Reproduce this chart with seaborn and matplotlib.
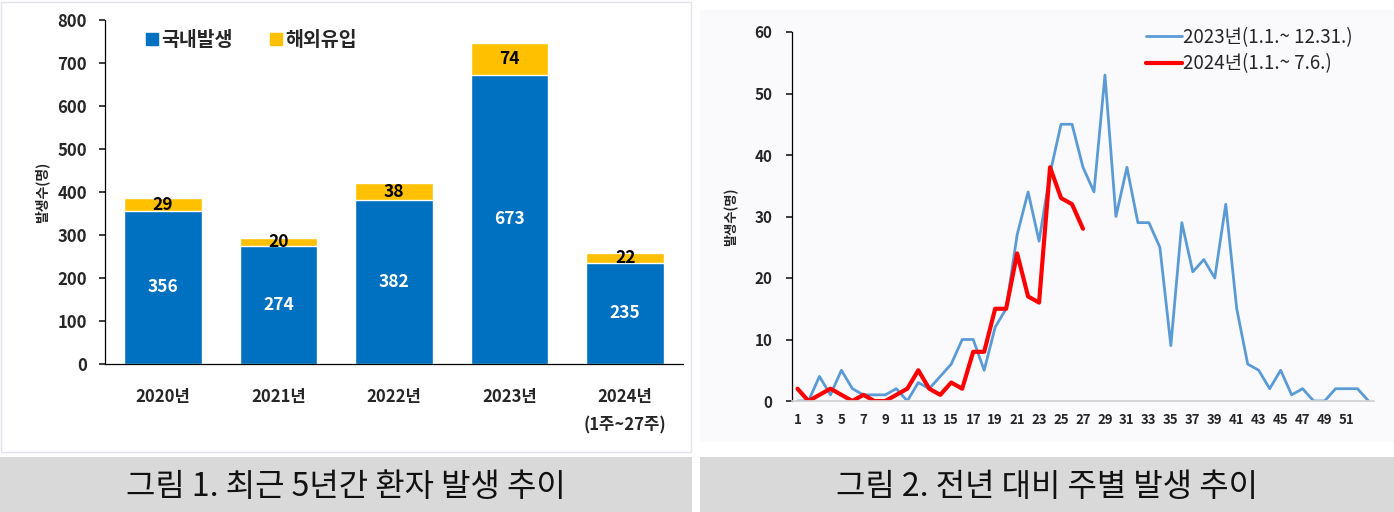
import numpy as np
import pandas as pd
import matplotlib
matplotlib.use("Agg")
import matplotlib.pyplot as plt
from matplotlib.patches import Rectangle
from matplotlib.lines import Line2D
import seaborn as sns

# ── DATA ────────────────────────────────────────────────────────────────────
years = ["2020년", "2021년", "2022년", "2023년", "2024년\n(1주~27주)"]
domestic = [356, 274, 382, 673, 235]
overseas = [29, 20, 38, 74, 22]

weeks_2023 = list(range(1, 54))
cases_2023 = [0, 0, 4, 1, 5, 2, 1, 1, 1, 2,
              0, 3, 2, 4, 6, 10, 10, 5, 12, 15,
              27, 34, 26, 37, 45, 45, 38, 34, 53, 30,
              38, 29, 29, 25, 9, 29, 21, 23, 20, 32,
              15, 6, 5, 2, 5, 1, 2, 0, 0, 2,
              2, 2, 0]
weeks_2024 = list(range(1, 28))
cases_2024 = [2, 0, 1, 2, 1, 0, 1, 0, 0, 1,
              2, 5, 2, 1, 3, 2, 8, 8, 15, 15,
              24, 17, 16, 38, 33, 32, 28]

BLUE = "#0070C0"
YELLOW = "#FFC000"
LINE_BLUE = "#5B9BD5"
LINE_RED = "#FF0000"

# ── SETUP ───────────────────────────────────────────────────────────────────
sns.set_theme(style="white")
plt.rcParams["font.family"] = ["Noto Sans CJK KR", "DejaVu Sans"]
plt.rcParams["axes.unicode_minus"] = False

W, H = 1394, 512
fig = plt.figure(figsize=(W / 100, H / 100), dpi=100)


def box(x0, y0, x1, y1):
    return [x0 / W, 1 - y1 / H, (x1 - x0) / W, (y1 - y0) / H]


# panel backgrounds + caption bars (behind the axes)
fig.patches.append(Rectangle((1 / W, 1 - 452 / H), 690 / W, 450 / H,
                             transform=fig.transFigure, facecolor="white",
                             edgecolor="#E4E4EC", lw=1, zorder=-2))
fig.patches.append(Rectangle((700 / W, 1 - 442 / H), 694 / W, 432 / H,
                             transform=fig.transFigure, facecolor="#FAFAFD",
                             edgecolor="none", zorder=-2))
for x0, x1, txt in [(0, 692, "그림 1. 최근 5년간 환자 발생 추이"),
                    (700, 1394, "그림 2. 전년 대비 주별 발생 추이")]:
    fig.patches.append(Rectangle((x0 / W, 0), (x1 - x0) / W, 55 / H,
                                 transform=fig.transFigure,
                                 facecolor="#D9D9D9", edgecolor="none",
                                 zorder=-2))
    fig.text((x0 + x1) / 2 / W, 1 - 487 / H, txt, ha="center", va="center",
             fontsize=23, color="#111111")

# ── PLOT 1: stacked bars ───────────────────────────────────────────────────
ax1 = fig.add_axes(box(105, 20, 683, 364))
ax1.patch.set_alpha(0)
df_bar = pd.DataFrame({"year": years, "domestic": domestic,
                       "overseas": overseas})
df_bar["total"] = df_bar["domestic"] + df_bar["overseas"]

sns.barplot(data=df_bar, x="year", y="total", color=YELLOW, width=0.67,
            saturation=1, ax=ax1)
sns.barplot(data=df_bar, x="year", y="domestic", color=BLUE, width=0.67,
            saturation=1, ax=ax1)

for i, (d, o) in enumerate(zip(domestic, overseas)):
    ax1.text(i, d / 2, str(d), ha="center", va="center", color="white",
             fontsize=12.5, fontweight="bold")
    ax1.text(i, d + o / 2, str(o), ha="center", va="center", color="black",
             fontsize=12.5, fontweight="bold")

ax1.set_ylim(0, 800)
ax1.set_xlim(-0.5, 4.5)
ax1.set_yticks(range(0, 801, 100))
ax1.set_xlabel("")
ax1.set_ylabel("발생수(명)", fontsize=10, fontweight="bold", labelpad=6)
ax1.tick_params(axis="y", labelsize=12, pad=9, length=4, left=True)
ax1.tick_params(axis="x", labelsize=12, pad=17, length=0)
for lab in ax1.get_xticklabels() + ax1.get_yticklabels():
    lab.set_fontweight("bold")
    lab.set_linespacing(1.8)
for s in ["top", "right"]:
    ax1.spines[s].set_visible(False)
for s in ["left", "bottom"]:
    ax1.spines[s].set_color("black")
    ax1.spines[s].set_linewidth(0.9)

handles = [Line2D([], [], marker="s", ls="none", color=BLUE, markersize=8),
           Line2D([], [], marker="s", ls="none", color=YELLOW, markersize=8)]
ax1.legend(handles, ["국내발생", "해외유입"], ncol=2, loc="upper left",
           bbox_to_anchor=(0.03, 1.02), frameon=False, handletextpad=-0.1,
           handlelength=1.2, columnspacing=1.6,
           prop={"size": 14, "weight": "bold"})

# ── PLOT 2: weekly lines ───────────────────────────────────────────────────
ax2 = fig.add_axes(box(792, 32, 1374, 401))
ax2.patch.set_alpha(0)
df_2023 = pd.DataFrame({"week": weeks_2023, "cases": cases_2023})
df_2024 = pd.DataFrame({"week": weeks_2024, "cases": cases_2024})

sns.lineplot(data=df_2023, x="week", y="cases", color=LINE_BLUE, lw=2,
             label="2023년(1.1.~ 12.31.)", ax=ax2)
sns.lineplot(data=df_2024, x="week", y="cases", color=LINE_RED, lw=3,
             label="2024년(1.1.~ 7.6.)", ax=ax2)

ax2.set_xlim(0.5, 53.5)
ax2.set_ylim(0, 60)
ax2.set_xticks(range(1, 52, 2))
ax2.set_yticks(range(0, 61, 10))
ax2.set_xlabel("")
ax2.set_ylabel("발생수(명)", fontsize=9.5, fontweight="bold", labelpad=12)
ax2.tick_params(axis="y", labelsize=11, pad=10, length=4, left=True)
ax2.tick_params(axis="x", labelsize=9.5, pad=9, length=0)
for lab in ax2.get_xticklabels() + ax2.get_yticklabels():
    lab.set_fontweight("bold")
ax2.spines["top"].set_visible(False)
ax2.spines["right"].set_visible(False)
ax2.spines["left"].set_color("black")
ax2.spines["left"].set_linewidth(0.9)
ax2.spines["bottom"].set_color("#D0D0D0")
ax2.legend(loc="upper left", bbox_to_anchor=(0.58, 1.06),
           frameon=False, fontsize=13.5, handlelength=1.9,
           handletextpad=0.05, labelspacing=0.3)

plt.savefig("out.png", dpi=100)
plt.close()
